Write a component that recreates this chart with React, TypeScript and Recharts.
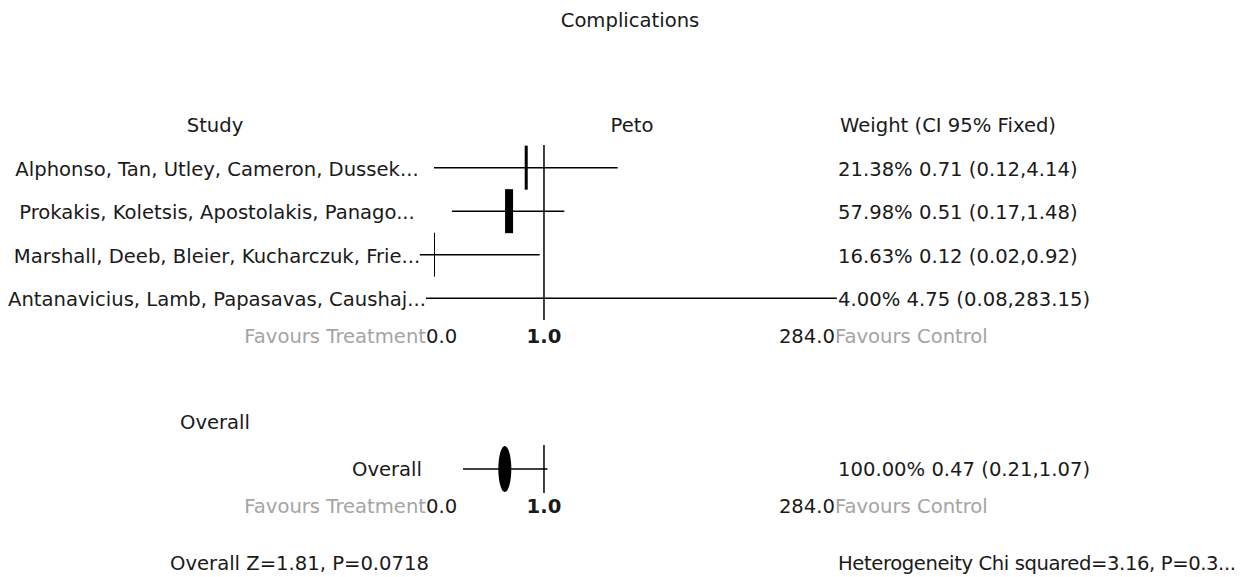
import { ComposedChart, Scatter, XAxis, YAxis, ReferenceLine } from 'recharts'

const STUDIES = [
  'Alphonso, Tan, Utley, Cameron, Dussek...',
  'Prokakis, Koletsis, Apostolakis, Panago...',
  'Marshall, Deeb, Bleier, Kucharczuk, Frie...',
  'Antanavicius, Lamb, Papasavas, Caushaj...',
]
const WEIGHTS = [21.38, 57.98, 16.63, 4.0]
const ESTIMATES = [0.71, 0.51, 0.12, 4.75]
const LOWER = [0.12, 0.17, 0.02, 0.08]
const UPPER = [4.14, 1.48, 0.92, 283.15]

const OVERALL_LABEL = 'Overall'
const OVERALL_WEIGHT = 100
const OVERALL_EST = 0.47
const OVERALL_LOWER = 0.21
const OVERALL_UPPER = 1.07

const TICK_VALUES = [0.12, 1, 284]
const TICK_LABELS = ['0.0', '1.0', '284.0']

const FONT = '"DejaVu Sans", sans-serif'
const FS = 19.6
const INK = '#1a1a1a'
const GREY = '#a4a4a4'

const X_DOMAIN: [number, number] = [0.12, 284]
const PLOT_LEFT = 434
const PLOT_RIGHT = 837

// study panel layout
const TOP1 = 145
const PLOT_H1 = 175
const CHART_H1 = 360
const ROWS1: [number, number] = [-0.52, 3.5]
// overall panel layout
const OFFSET2 = 400
const TOP2 = 45
const PLOT_H2 = 48
const CHART_H2 = 177
const ROWS2: [number, number] = [-0.5, 0.5]

const rowY1 = (i: number) => TOP1 + ((i - ROWS1[0]) / (ROWS1[1] - ROWS1[0])) * PLOT_H1
const rowY2 = (i: number) => OFFSET2 + TOP2 + ((i - ROWS2[0]) / (ROWS2[1] - ROWS2[0])) * PLOT_H2

const fmt = (w: number, e: number, lo: number, hi: number) =>
  `${w.toFixed(2)}% ${e.toFixed(2)} (${lo.toFixed(2)},${hi.toFixed(2)})`

const studyData = STUDIES.map((name, i) => ({
  name,
  row: i,
  est: ESTIMATES[i],
  weight: WEIGHTS[i],
}))
const overallData = [{ name: OVERALL_LABEL, row: 0, est: OVERALL_EST, weight: OVERALL_WEIGHT }]

function makeTick(dy: number) {
  return function AxisTick(props: any) {
    const { x, y, payload } = props
    const i = TICK_VALUES.indexOf(payload.value)
    const ty = y + dy
    const st = { fontFamily: FONT, fontSize: FS }
    if (i === 0) {
      return (
        <g style={st}>
          <text x={x - 8} y={ty} textAnchor="end" fill={GREY}>Favours Treatment</text>
          <text x={x - 8} y={ty} textAnchor="start" fill={INK}>{TICK_LABELS[i]}</text>
        </g>
      )
    }
    if (i === TICK_VALUES.length - 1) {
      return (
        <g style={st}>
          <text x={x - 2} y={ty} textAnchor="end" fill={INK}>{TICK_LABELS[i]}</text>
          <text x={x - 2} y={ty} textAnchor="start" fill={GREY}>Favours Control</text>
        </g>
      )
    }
    return (
      <text x={x} y={ty} textAnchor="middle" fill={INK} fontWeight="bold" style={st}>
        {TICK_LABELS[i]}
      </text>
    )
  }
}
const Tick1 = makeTick(23)
const Tick2 = makeTick(20)

function WeightBox(props: any) {
  const { cx, cy, payload } = props
  const w = Math.floor(payload.weight / 7)
  if (w <= 0) return <g />
  return <rect x={cx - w / 2} y={cy - 22} width={w} height={44} fill="#000" />
}

function Diamond(props: any) {
  const { cx, cy } = props
  return <ellipse cx={cx} cy={cy} rx={6.5} ry={23} fill="#000" />
}

function Label({ x, base, anchor = 'start', color = INK, mask = false, spacing = 0, children }: any) {
  const shift = anchor === 'middle' ? '-50%' : anchor === 'end' ? '-100%' : '0'
  return (
    <div
      style={{
        position: 'absolute',
        left: x,
        top: base - 18.8,
        height: 24,
        lineHeight: '24px',
        whiteSpace: 'nowrap',
        letterSpacing: spacing,
        transform: `translateX(${shift})`,
        background: mask ? '#fff' : 'transparent',
        color,
      }}
    >
      {children}
    </div>
  )
}

const line = { stroke: '#000', strokeWidth: 1.5 }

export default function App() {
  return (
    <div
      style={{
        position: 'absolute',
        left: 0,
        top: 0,
        width: 1251,
        height: 577,
        background: '#fff',
        fontFamily: FONT,
        fontSize: FS,
        color: INK,
        overflow: 'hidden',
      }}
    >
      <div style={{ position: 'absolute', left: 0, top: 0 }}>
        <ComposedChart
          width={1251}
          height={CHART_H1}
          data={studyData}
          margin={{ top: TOP1, left: PLOT_LEFT, right: 1251 - PLOT_RIGHT, bottom: CHART_H1 - TOP1 - PLOT_H1 - 30 }}
        >
          <XAxis
            dataKey="est"
            type="number"
            scale="log"
            domain={X_DOMAIN}
            allowDataOverflow
            ticks={TICK_VALUES}
            interval={0}
            height={30}
            axisLine={false}
            tickLine={false}
            tickSize={0}
            tickMargin={0}
            tick={<Tick1 />}
          />
          <YAxis dataKey="row" type="number" domain={ROWS1} reversed hide allowDataOverflow />
          <ReferenceLine x={1} {...line} ifOverflow="visible" />
          {STUDIES.map((s, i) => (
            <ReferenceLine
              key={s}
              segment={[{ x: LOWER[i], y: i }, { x: UPPER[i], y: i }]}
              {...line}
              ifOverflow="visible"
            />
          ))}
          <Scatter dataKey="row" shape={<WeightBox />} isAnimationActive={false} />
        </ComposedChart>
      </div>

      <div style={{ position: 'absolute', left: 0, top: OFFSET2 }}>
        <ComposedChart
          width={1251}
          height={CHART_H2}
          data={overallData}
          margin={{ top: TOP2, left: PLOT_LEFT, right: 1251 - PLOT_RIGHT, bottom: CHART_H2 - TOP2 - PLOT_H2 - 30 }}
        >
          <XAxis
            dataKey="est"
            type="number"
            scale="log"
            domain={X_DOMAIN}
            allowDataOverflow
            ticks={TICK_VALUES}
            interval={0}
            height={30}
            axisLine={false}
            tickLine={false}
            tickSize={0}
            tickMargin={0}
            tick={<Tick2 />}
          />
          <YAxis dataKey="row" type="number" domain={ROWS2} reversed hide allowDataOverflow />
          <ReferenceLine x={1} {...line} ifOverflow="visible" />
          <ReferenceLine
            segment={[{ x: OVERALL_LOWER, y: 0 }, { x: OVERALL_UPPER, y: 0 }]}
            {...line}
            ifOverflow="visible"
          />
          <Scatter dataKey="row" shape={<Diamond />} isAnimationActive={false} />
        </ComposedChart>
      </div>

      <Label x={630} base={28} anchor="middle">Complications</Label>
      <Label x={215} base={133} anchor="middle">Study</Label>
      <Label x={632} base={133} anchor="middle">Peto</Label>
      <Label x={840} base={133}>Weight (CI 95% Fixed)</Label>

      {STUDIES.map((s, i) => (
        <Label key={s} x={217} base={rowY1(i) + 9} anchor="middle" mask>
          {s}
        </Label>
      ))}
      {STUDIES.map((s, i) => (
        <Label key={s + 'w'} x={838} base={rowY1(i) + 9} mask>
          {fmt(WEIGHTS[i], ESTIMATES[i], LOWER[i], UPPER[i])}
        </Label>
      ))}

      <Label x={215} base={430} anchor="middle">Overall</Label>
      <Label x={422} base={rowY2(0) + 8} anchor="end" mask>
        {OVERALL_LABEL}
      </Label>
      <Label x={838} base={rowY2(0) + 8} mask>
        {fmt(OVERALL_WEIGHT, OVERALL_EST, OVERALL_LOWER, OVERALL_UPPER)}
      </Label>

      <Label x={170} base={571}>Overall Z=1.81, P=0.0718</Label>
      <Label x={838} base={571} spacing={-0.4}>Heterogeneity Chi squared=3.16, P=0.3...</Label>
    </div>
  )
}
